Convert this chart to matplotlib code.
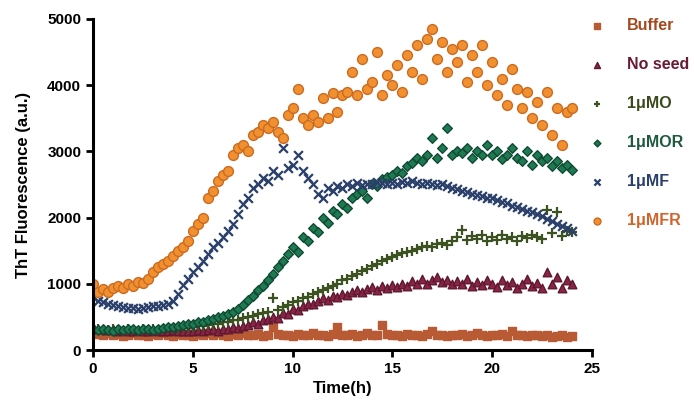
import numpy as np
import matplotlib.pyplot as plt

plt.rcParams['font.family'] = ['Liberation Sans', 'DejaVu Sans']
plt.rcParams['font.weight'] = 'bold'

# time points, every 0.25 h
time_h = np.arange(0, 24.01, 0.25)

buffer = [
    260, 240, 230, 250, 220, 240, 210, 230, 250, 220,
    230, 210, 240, 220, 250, 230, 210, 240, 220, 230,
    210, 240, 230, 250, 220, 260, 230, 210, 240, 220,
    250, 230, 220, 240, 210, 230, 350, 240, 220, 230,
    210, 240, 220, 230, 250, 220, 230, 210, 240, 340,
    230, 220, 240, 210, 230, 250, 220, 230, 380, 240,
    220, 230, 210, 240, 220, 230, 210, 240, 280, 230,
    220, 210, 230, 220, 240, 210, 230, 260, 220, 210,
    230, 220, 240, 210, 280, 230, 220, 210, 230, 220,
    210, 220, 200, 210, 220, 200, 210]

no_seed = [
    340, 320, 310, 300, 310, 290, 300, 280, 290, 300,
    290, 280, 300, 290, 280, 290, 300, 280, 290, 280,
    290, 300, 280, 300, 310, 290, 320, 310, 340, 330,
    370, 380, 420, 400, 450, 470, 500, 480, 560, 550,
    620, 600, 660, 700, 690, 740, 780, 760, 820, 800,
    850, 830, 880, 900, 870, 920, 950, 900, 960, 930,
    980, 950, 1000, 970, 1040, 990, 1080, 1000, 1050, 1110,
    1020, 1060, 990, 1040, 1000, 1080, 960, 1030, 980, 1050,
    1000, 950, 1060, 980, 1020, 940, 1000, 1070, 960, 1010,
    930, 1180, 990, 1100, 940, 1050, 1000]

mo = [
    300, 310, 290, 300, 320, 300, 290, 310, 300, 290,
    310, 300, 320, 300, 310, 330, 320, 310, 340, 330,
    350, 360, 370, 380, 400, 390, 420, 430, 460, 450,
    480, 500, 520, 540, 560, 580, 790, 610, 650, 680,
    720, 740, 780, 800, 840, 870, 900, 930, 960, 1000,
    1050, 1080, 1120, 1150, 1200, 1230, 1270, 1300, 1340, 1370,
    1400, 1430, 1460, 1480, 1500, 1530, 1550, 1570, 1560, 1600,
    1620, 1580, 1650, 1700, 1820, 1660, 1720, 1680, 1740, 1650,
    1700, 1660, 1730, 1680, 1700, 1650, 1720, 1690, 1740, 1700,
    1680, 2120, 1760, 2080, 1720, 1800, 1780]

mor = [
    310, 300, 320, 300, 290, 310, 300, 320, 310, 300,
    320, 310, 300, 320, 330, 340, 350, 360, 380, 390,
    400, 420, 430, 450, 470, 500, 520, 550, 580, 620,
    680, 750, 820, 900, 960, 1050, 1150, 1250, 1350, 1450,
    1550, 1480, 1700, 1650, 1850, 1780, 2000, 1920, 2100, 2050,
    2200, 2150, 2300, 2350, 2400, 2300, 2500, 2480, 2580, 2620,
    2650, 2700, 2680, 2780, 2820, 2900, 2850, 2950, 3200, 2900,
    3050, 3350, 2950, 3000, 2980, 3050, 2900, 3000, 2950, 3100,
    2950, 3000, 2880, 2950, 3050, 2900, 2850, 3000, 2800, 2950,
    2850, 2900, 2780, 2850, 2750, 2800, 2720]

mf = [
    800, 740, 720, 700, 680, 660, 650, 630, 640, 620,
    640, 650, 660, 670, 680, 700, 740, 850, 980, 1080,
    1180, 1250, 1350, 1450, 1560, 1620, 1700, 1800, 1900, 2050,
    2200, 2300, 2450, 2500, 2600, 2550, 2700, 2650, 3050, 2750,
    2800, 2950, 2700, 2600, 2500, 2350, 2300, 2450, 2400, 2480,
    2450, 2500, 2470, 2520, 2490, 2510, 2500, 2540, 2520, 2500,
    2530, 2510, 2540, 2520, 2550, 2520, 2500, 2530, 2510, 2490,
    2500, 2470, 2450, 2430, 2400, 2380, 2350, 2340, 2320, 2300,
    2290, 2260, 2240, 2220, 2180, 2160, 2130, 2100, 2080, 2060,
    2020, 1980, 1950, 1900, 1870, 1840, 1800]

mfr = [
    1000, 880, 920, 870, 930, 960, 940, 990, 970, 1030,
    1010, 1080, 1180, 1250, 1300, 1350, 1420, 1500, 1560, 1650,
    1800, 1900, 2000, 2300, 2400, 2550, 2650, 2700, 2950, 3050,
    3100, 3000, 3250, 3300, 3400, 3350, 3450, 3300, 3200, 3550,
    3650, 3950, 3500, 3400, 3550, 3450, 3800, 3500, 3880, 3600,
    3850, 3900, 4200, 3850, 4400, 3950, 4050, 4500, 3850, 4150,
    4000, 4300, 3900, 4450, 4200, 4600, 4100, 4700, 4850, 4400,
    4650, 4200, 4550, 4350, 4600, 4050, 4450, 4200, 4600, 4000,
    4350, 3850, 4100, 3700, 4250, 3950, 3650, 3900, 3500, 3750,
    3400, 3900, 3250, 3650, 3100, 3600, 3650]

labels = ['Buffer', 'No seed', '1μMO', '1μMOR', '1μMF', '1μMFR']
series = [buffer, no_seed, mo, mor, mf, mfr]
markers = ['s', '^', '+', 'D', 'x', 'o']
sizes = [28, 38, 45, 24, 40, 50]
faces = ['#B85A34', '#8A2446', '#3C5220', '#1F7A52', '#2A3F6A', '#F0902E']
edges = ['#B85A34', '#5E1830', '#3C5220', '#0F4B33', '#2A3F6A', '#CC6A22']
text_colors = ['#A4481F', '#6A1A33', '#3A4A1C', '#1E5A40', '#2A3F6A', '#D0652C']

fig = plt.figure(figsize=[6.94, 4.0], dpi=100)
ax = fig.add_axes([0.134, 0.125, 0.719, 0.8275])

for vals, lab, m, s, fc, ec in zip(series, labels, markers, sizes, faces, edges):
    if m in ['+', 'x']:
        ax.scatter(time_h, vals, marker=m, s=s, color=fc, linewidths=1.6, label=lab)
    else:
        ax.scatter(time_h, vals, marker=m, s=s, facecolor=fc, edgecolor=ec,
                   linewidths=1.0, label=lab)

ax.set_xlim(0, 25)
ax.set_ylim(0, 5000)
ax.set_xticks([0, 5, 10, 15, 20, 25])
ax.set_yticks([0, 1000, 2000, 3000, 4000, 5000])
ax.spines['top'].set_visible(False)
ax.spines['right'].set_visible(False)
ax.spines['left'].set_linewidth(2.2)
ax.spines['bottom'].set_linewidth(2.2)
ax.tick_params(width=2.0, length=5, labelsize=11)
for lbl in ax.get_xticklabels() + ax.get_yticklabels():
    lbl.set_fontweight('bold')
ax.set_xlabel('Time(h)', fontsize=12, fontweight='bold')
ax.set_ylabel('ThT Fluorescence (a.u.)', fontsize=12, fontweight='bold', labelpad=12)

leg = ax.legend(loc='upper left', bbox_to_anchor=(0.994, 1.003), frameon=False,
                borderpad=0, borderaxespad=0, handlelength=1.0,
                labelspacing=1.5, handletextpad=1.35, markerscale=0.7,
                prop={'weight': 'bold', 'size': 11.5})
for txt, c in zip(leg.get_texts(), text_colors):
    txt.set_color(c)

plt.savefig('out.png', dpi=100)
